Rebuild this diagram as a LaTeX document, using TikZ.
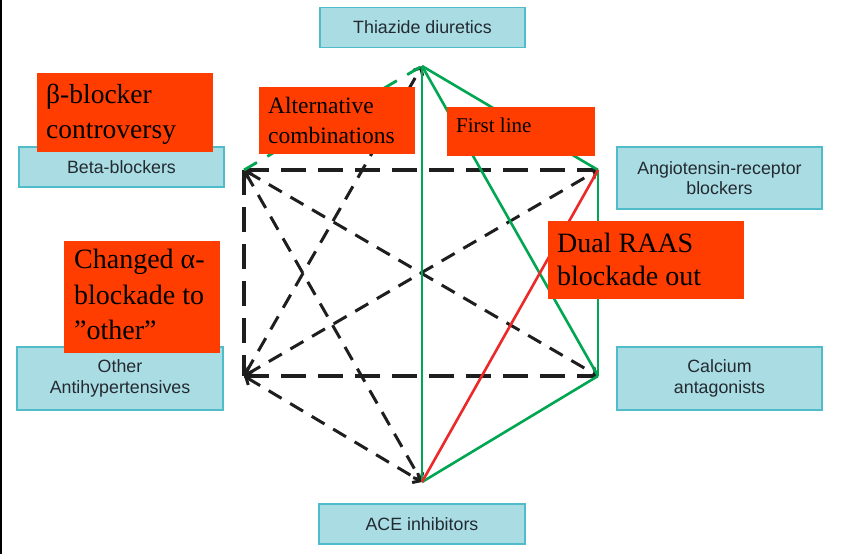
\documentclass[tikz,border=0pt]{standalone}
\usepackage{fontspec}
\setmainfont{Liberation Serif}
\newfontfamily\boxfont{Liberation Sans}
\usetikzlibrary{arrows.meta}
\definecolor{boxfill}{RGB}{170,220,228}
\definecolor{boxline}{RGB}{80,188,202}
\definecolor{boxtext}{RGB}{35,42,48}
\definecolor{redfill}{RGB}{255,61,0}
\definecolor{lgreen}{RGB}{0,166,81}
\definecolor{lred}{RGB}{237,40,40}
\definecolor{dk}{RGB}{30,30,30}
\begin{document}
\begin{tikzpicture}[x=1pt,y=-1pt,
  drug/.style={draw=boxline, line width=1.2pt, fill=boxfill, text=boxtext,
    font=\boxfont\fontsize{17.8}{20.5}\selectfont, align=center, inner sep=0pt,
    minimum width=205pt, minimum height=40pt},
  note/.style={fill=redfill, draw=none, inner sep=0pt, anchor=north west},
  notetext/.style={anchor=north west, inner sep=0pt, align=left, text=black},
  thickdash/.style={draw=dk, line width=4.8pt, dash pattern=on 25pt off 12pt},
  thindash/.style={draw=dk, line width=3pt, dash pattern=on 15pt off 10pt,
    {Straight Barb[length=6pt,width=11pt]}-{Straight Barb[length=6pt,width=11pt]}},
  greendash/.style={draw=lgreen, line width=2.8pt, dash pattern=on 15pt off 12pt},
  pref/.style={draw=lgreen, line width=2.6pt},
  dualline/.style={draw=lred, line width=2.6pt}
]
\useasboundingbox (0,0) rectangle (855,554);
\fill[white] (0,0) rectangle (855,554);
\draw[line width=2pt, black] (1,0) -- (1,554);

% vertices
\coordinate (T) at (422,66);
\coordinate (BB) at (244,170);
\coordinate (ARB) at (598,170);
\coordinate (OA) at (244,376);
\coordinate (CA) at (598,376);
\coordinate (ACE) at (422,482);

% possible combinations
\draw[thickdash] (BB) -- (ARB);
\draw[thickdash] (OA) -- (CA);
\draw[thickdash] (BB) -- (OA);
\draw[thindash] (BB) -- (CA);
\draw[thindash] (BB) -- (ACE);
\draw[thindash] (OA) -- (ARB);
\draw[thindash] (OA) -- (T);
\draw[thindash] (OA) -- (ACE);
\draw[greendash] (BB) -- (T);

% preferred combinations
\draw[pref] (T) -- (ARB);
\draw[pref] (T) -- (ACE);
\draw[pref] (T) -- (CA);
\draw[pref] (ARB) -- (CA);
\draw[pref] (CA) -- (ACE);
\draw[dualline] (ARB) -- (ACE);

% drug classes
\node[drug] (thz) at (422.5,27.5) {Thiazide diuretics};
\node[drug] (beta) at (121.5,167) {Beta-blockers};
\node[drug, minimum height=62pt] (arb) at (719.5,178) {Angiotensin-receptor\\blockers};
\node[drug, minimum height=63pt, minimum width=206pt] (oth) at (120,378.5) {Other\\Antihypertensives};
\node[drug, minimum height=63pt] (cal) at (719.5,378.5) {Calcium\\antagonists};
\node[drug, minimum width=206pt] (ace) at (422,524) {ACE inhibitors};

% annotations
\node[note, minimum width=176pt, minimum height=79pt] (n1) at (37,73) {};
\node[notetext, font=\fontsize{27.5}{35}\selectfont] (t1) at (46,84) {β-blocker\\controversy};
\node[note, minimum width=156pt, minimum height=67pt] (n2) at (259,87) {};
\node[notetext, font=\fontsize{23.5}{30}\selectfont] (t2) at (268,97) {Alternative\\combinations};
\node[note, minimum width=148pt, minimum height=49pt] (n3) at (447,107) {};
\node[notetext, font=\fontsize{21}{25}\selectfont] (t3) at (456,118) {First line};
\node[note, minimum width=196pt, minimum height=78pt] (n4) at (548,221) {};
\node[notetext, font=\fontsize{28}{33}\selectfont] (t4) at (557,233) {Dual RAAS\\blockade out};
\node[note, minimum width=156pt, minimum height=112pt] (n5) at (64,241) {};
\node[notetext, font=\fontsize{28}{35.5}\selectfont] (t5) at (74,249) {Changed α-\\blockade to\\”other”};
\end{tikzpicture}
\end{document}
